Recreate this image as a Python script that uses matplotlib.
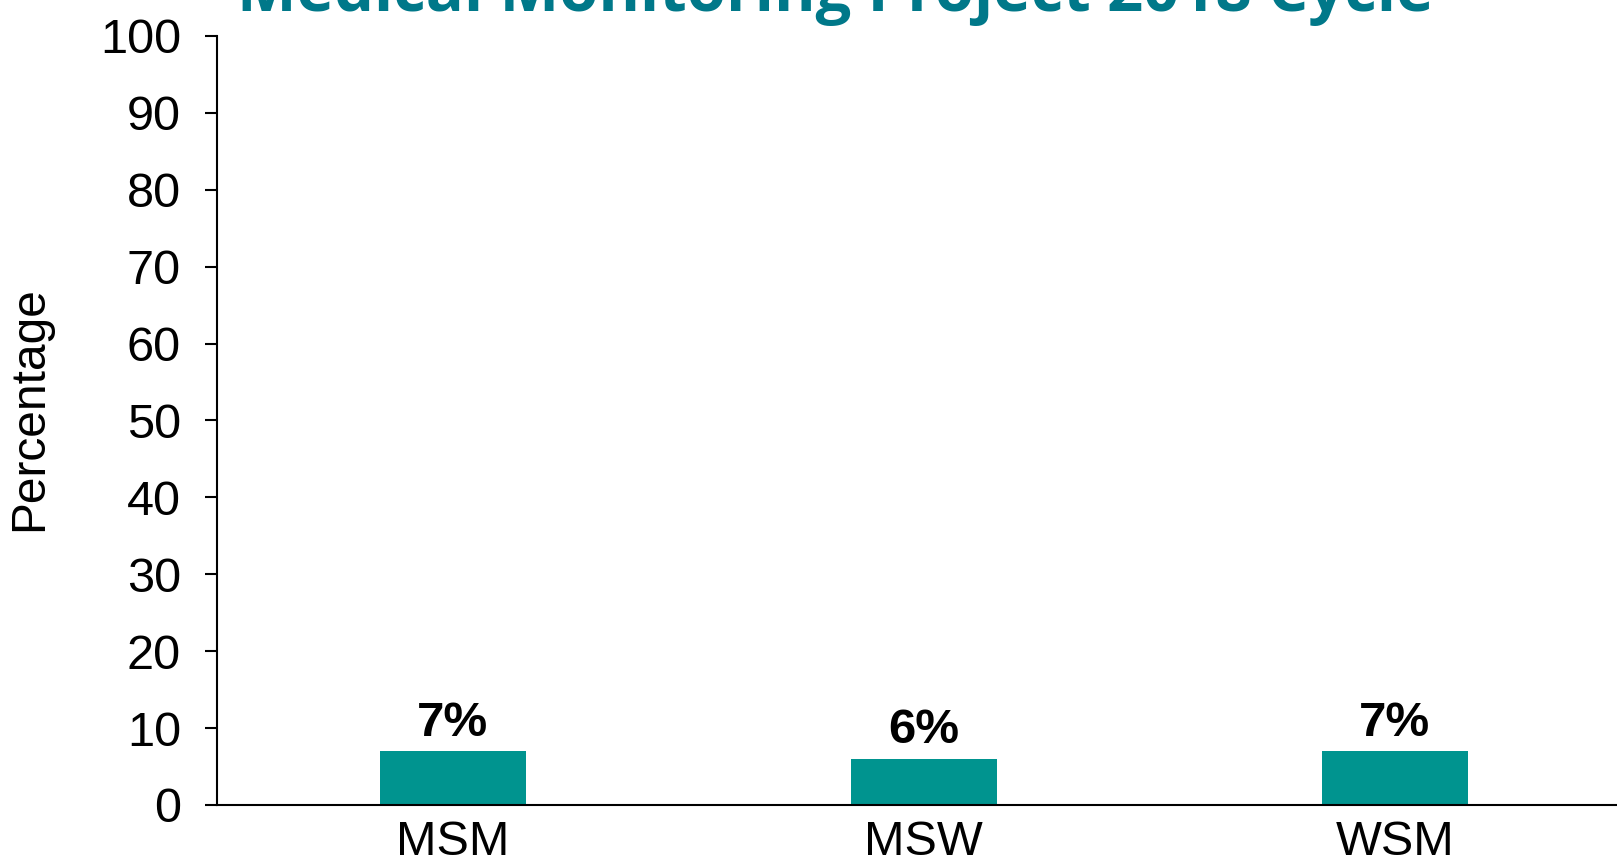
import matplotlib.pyplot as plt
import numpy as np

# Data
groups = ["MSM", "MSW", "WSM"]
percent = [7, 6, 7]
y_ticks = list(range(0, 101, 10))

title_text = "Medical Monitoring Project 2018 Cycle"
bar_color = "#00948F"
title_color = "#007889"

plt.rcParams['font.family'] = ['Liberation Sans', 'DejaVu Sans']

fig = plt.figure(figsize=(16.17, 8.68), dpi=100)
ax = fig.add_axes([0.1342, 0.0726, 0.874, 0.886])

x = np.arange(len(groups))
bars = ax.bar(x, percent, width=0.31, color=bar_color, zorder=2)

# value labels above the bars
for xi, v in zip(x, percent):
    ax.annotate(f"{v}%", (xi, v), xytext=(0, 4), textcoords="offset points",
                ha="center", va="bottom", fontsize=35.5, fontweight="bold")

ax.set_xlim(-0.5, 2.5)
ax.set_ylim(0, 100)
ax.set_yticks(y_ticks)
ax.set_xticks(x)
ax.set_xticklabels(groups)
ax.tick_params(axis="y", labelsize=35, length=9, width=1.5, pad=17)
ax.tick_params(axis="x", labelsize=35, length=0, pad=11)

for s in ["top", "right"]:
    ax.spines[s].set_visible(False)
for s in ["left", "bottom"]:
    ax.spines[s].set_linewidth(1.5)

ax.set_ylabel("Percentage", fontsize=34.5)
ax.yaxis.set_label_coords(-0.117, 0.515)

# title is cut off at the top of the slide
fig.text(0.5165, 1 - 11 / 868, title_text, ha="center", va="baseline",
         fontsize=45.5, fontweight="bold", color=title_color,
         family=["Open Sans", "DejaVu Sans"])

plt.savefig("out.png", dpi=100)
